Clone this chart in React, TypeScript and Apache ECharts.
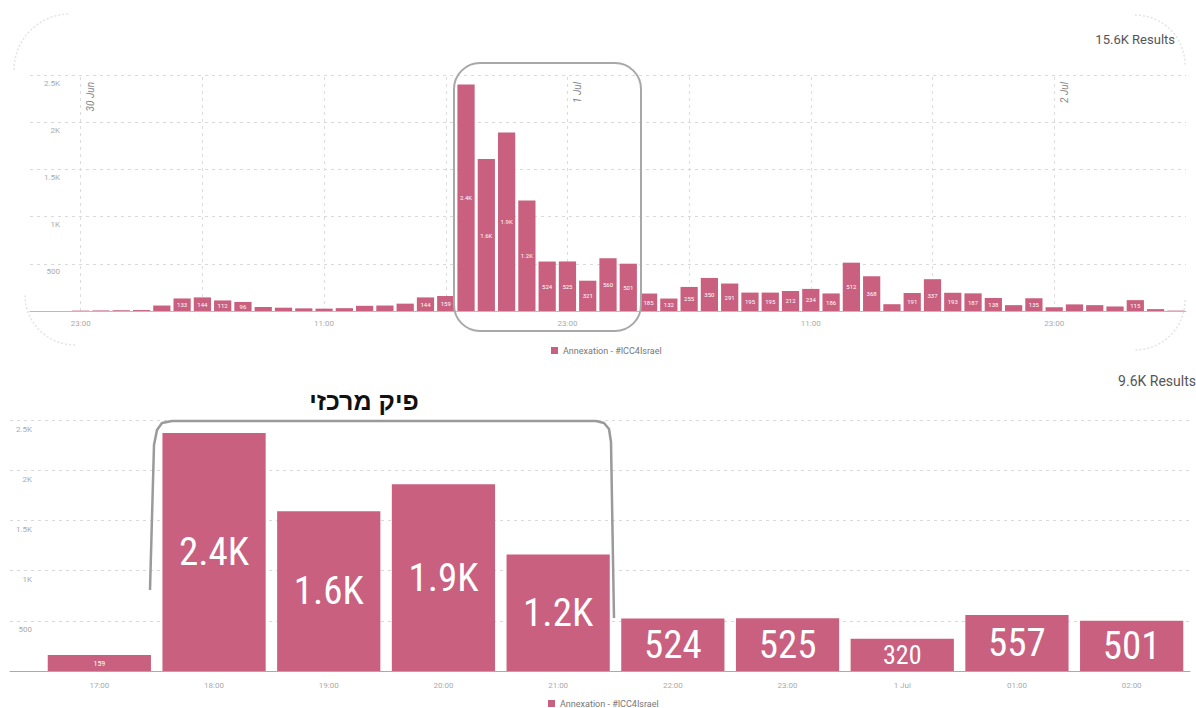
import React, { useEffect, useRef } from 'react';
import * as echarts from 'echarts';

const SERIES_NAME = 'Annexation - #ICC4Israel';
const BAR_COLOR = '#c9607f';

// Top chart: hourly counts starting 29 Jun 21:00
const topStartUTC = Date.UTC(2020, 5, 29, 21);
const topValues = [
  0, 0, 4, 6, 8, 10, 58, 133, 144, 112,
  96, 42, 35, 28, 25, 30, 55, 58, 78, 144,
  159, 2400, 1610, 1890, 1170, 524, 525, 321, 560, 501,
  185, 132, 255, 350, 291, 195, 195, 212, 234, 186,
  512, 368, 72, 191, 337, 193, 187, 138, 62, 135,
  40, 70, 62, 48, 115, 20, 4,
];
const topTotalLabel = '15.6K Results';

// Bottom chart: zoom on the central peak
const bottomCats = ['17:00', '18:00', '19:00', '20:00', '21:00', '22:00', '23:00', '1 Jul', '01:00', '02:00'];
const bottomValues = [159, 2370, 1590, 1860, 1160, 524, 525, 320, 557, 501];
const bottomTotalLabel = '9.6K Results';
const peakTitle = 'פיק מרכזי';

const yTicks = { min: 0, max: 2500, interval: 500 };

const MONTHS = ['Jan', 'Feb', 'Mar', 'Apr', 'May', 'Jun', 'Jul', 'Aug', 'Sep', 'Oct', 'Nov', 'Dec'];
const pad = (n: number) => (n < 10 ? '0' + n : String(n));
const topCats = topValues.map((_, i) => {
  const d = new Date(topStartUTC + i * 3600e3);
  return `${d.getUTCDate()} ${MONTHS[d.getUTCMonth()]} ${pad(d.getUTCHours())}:00`;
});
const hourOf = (c: string) => parseInt(c.slice(-5), 10);

const fmtK = (v: number) => (v >= 1000 ? (v / 1000).toFixed(1) + 'K' : String(v));
const axisK = (v: number) => (v === 0 ? '' : v >= 1000 ? v / 1000 + 'K' : String(v));

export default function App() {
  const ref = useRef<HTMLDivElement>(null);
  useEffect(() => {
    document.body.style.margin = '0';
    const chart = echarts.init(ref.current!, undefined, { renderer: 'svg' });
    const gridLine = { lineStyle: { color: '#d9d9d9', type: [3, 4], width: 1 } };
    const option: any = {
      animation: false,
      textStyle: { fontFamily: 'Roboto, sans-serif' },
      grid: [
        { left: 30, right: 10, top: 75, bottom: 397 },
        { left: 42, right: 7, top: 420, bottom: 37 },
        { left: 10, right: 6, top: 420, bottom: 37 },
      ],
      legend: [
        {
          data: [SERIES_NAME], left: 546, top: 341, itemWidth: 7, itemHeight: 7, icon: 'rect',
          selectedMode: false, textStyle: { fontSize: 9, color: '#777' },
        },
        {
          data: [SERIES_NAME], left: 543, top: 694, itemWidth: 7, itemHeight: 7, icon: 'rect',
          selectedMode: false, textStyle: { fontSize: 9, color: '#777' },
        },
      ],
      xAxis: [
        {
          type: 'category', gridIndex: 0, data: topCats,
          axisLine: { lineStyle: { color: '#bbb' } }, axisTick: { show: false },
          axisLabel: {
            color: '#aaa', fontSize: 8, margin: 8,
            interval: (_i: number, v: string) => hourOf(v) % 12 === 11,
            formatter: (v: string) => v.slice(-5),
          },
        },
        {
          type: 'category', gridIndex: 1, data: bottomCats,
          axisLine: { show: false }, axisTick: { show: false },
          axisLabel: { color: '#aaa', fontSize: 8, margin: 10 },
        },
        {
          type: 'value', gridIndex: 2, min: 0, max: 1,
          axisLine: { show: true, lineStyle: { color: '#aaa' } }, axisTick: { show: false },
          axisLabel: { show: false }, splitLine: { show: false },
        },
      ],
      yAxis: [
        {
          type: 'value', gridIndex: 0, ...yTicks,
          axisLine: { show: false }, axisTick: { show: false },
          axisLabel: { formatter: axisK, color: '#aaa', fontSize: 8, margin: -30, verticalAlign: 'top', padding: [4, 0, 0, 0] },
          splitLine: gridLine,
        },
        { type: 'value', gridIndex: 1, ...yTicks, show: false, splitLine: { show: false } },
        {
          type: 'value', gridIndex: 2, ...yTicks,
          axisLine: { show: false }, axisTick: { show: false },
          axisLabel: { formatter: axisK, color: '#aaa', fontSize: 8, margin: -22, verticalAlign: 'top', padding: [5, 0, 0, 0] },
          splitLine: gridLine,
        },
      ],
      series: [
        {
          type: 'bar', name: SERIES_NAME, xAxisIndex: 0, yAxisIndex: 0, data: topValues, z: 3,
          barCategoryGap: '15%', itemStyle: { color: BAR_COLOR },
          label: {
            show: true, position: 'inside', color: '#fff', fontSize: 6,
            formatter: (p: any) => (p.value >= 90 ? fmtK(p.value) : ''),
          },
          markLine: {
            silent: true, symbol: 'none', label: { show: false }, z: 1,
            lineStyle: { color: '#dcdcdc', type: [3, 4], width: 1 },
            data: topCats
              .map((c, i) => ({ c, i }))
              .filter(({ c, i }) => hourOf(c) % 6 === 5 && i <= 50)
              .map(({ i }) => ({ xAxis: i })),
          },
        },
        {
          type: 'bar', name: SERIES_NAME, xAxisIndex: 1, yAxisIndex: 1,
          data: bottomValues.map((v) => ({
            value: v,
            label: { fontSize: v >= 450 ? 39 : v >= 250 ? 26 : 8 },
          })),
          barCategoryGap: '10%', itemStyle: { color: BAR_COLOR },
          label: {
            show: true, position: 'inside', color: '#fff',
            fontFamily: '"Liberation Sans Narrow", "Roboto Condensed", Roboto, sans-serif',
            formatter: (p: any) => fmtK(p.value),
          },
        },
      ],
    };
    chart.setOption(option);

    // Day-boundary labels placed through the axis scale
    const dayLabels: any[] = [];
    topCats.forEach((c, i) => {
      if (i > 0 && c.endsWith(' 00:00')) {
        const x0 = chart.convertToPixel({ xAxisIndex: 0 } as any, i - 1) as number;
        const x1 = chart.convertToPixel({ xAxisIndex: 0 } as any, i) as number;
        const parts = c.split(' ');
        dayLabels.push({
          type: 'text', x: (x0 + x1) / 2, y: 82, rotation: Math.PI / 2,
          style: { text: `${parts[0]} ${parts[1]}`, fill: '#888', fontSize: 10, fontStyle: 'italic', align: 'right', verticalAlign: 'middle', fontFamily: 'Roboto' },
        });
      }
    });

    const arcStyle = { stroke: '#e4e4e4', lineWidth: 1.5, lineDash: [2, 2], fill: 'none' };
    chart.setOption({
      graphic: [
        ...dayLabels,
        { type: 'text', right: 21, top: 33, style: { text: topTotalLabel, fill: '#555', fontSize: 13, fontFamily: 'Roboto' } },
        { type: 'text', right: 0, top: 374, style: { text: bottomTotalLabel, fill: '#555', fontSize: 14, fontFamily: 'Roboto' } },
        {
          type: 'rect', z: 100, shape: { x: 454, y: 63, width: 187, height: 268, r: 26 },
          style: { stroke: '#a8a8a8', lineWidth: 2, fill: 'none' },
        },
        {
          type: 'polyline', z: 100,
          shape: { points: [[150, 590], [154, 445], [157, 430], [162, 423], [172, 421], [596, 421], [604, 423], [609, 429], [611, 442], [614, 618]] },
          style: { stroke: '#9a9a9a', lineWidth: 2.5, fill: 'none', lineJoin: 'round' },
        },
        {
          type: 'text', x: 364, y: 401, z: 100,
          style: { text: peakTitle, fill: '#111', fontSize: 25, fontWeight: 'bold', align: 'center', verticalAlign: 'middle', fontFamily: '"Liberation Sans", "DejaVu Sans", sans-serif' },
        },
        { type: 'arc', shape: { cx: 70, cy: 70, r: 56, startAngle: Math.PI, endAngle: Math.PI * 1.5 }, style: arcStyle },
        { type: 'arc', shape: { cx: 75, cy: 295, r: 50, startAngle: Math.PI / 2, endAngle: Math.PI }, style: arcStyle },
        { type: 'arc', shape: { cx: 1135, cy: 65, r: 50, startAngle: Math.PI * 1.5, endAngle: Math.PI * 2 }, style: arcStyle },
        { type: 'arc', shape: { cx: 1135, cy: 300, r: 50, startAngle: 0, endAngle: Math.PI / 2 }, style: arcStyle },
      ],
    });

    return () => chart.dispose();
  }, []);
  return <div ref={ref} style={{ width: 1196, height: 708 }} />;
}
